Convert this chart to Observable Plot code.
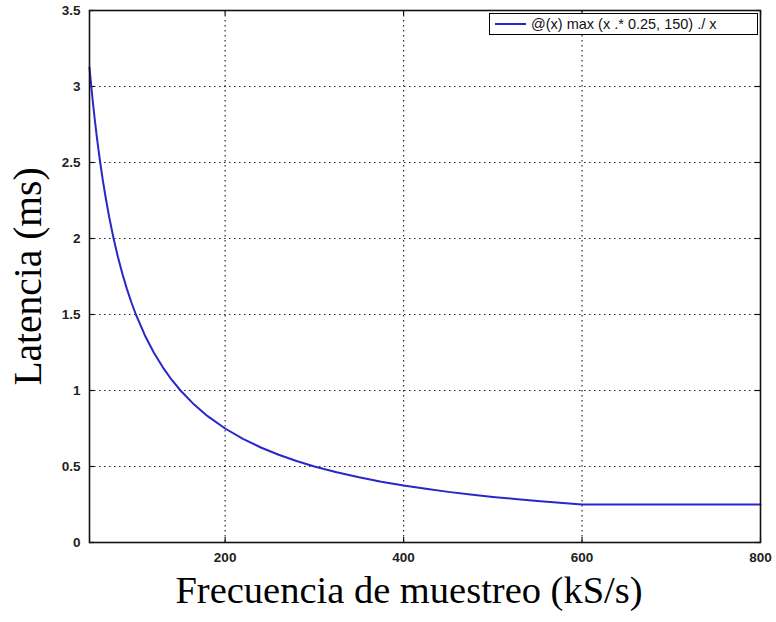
<!DOCTYPE html>
<html>
<head>
<meta charset="utf-8">
<script src="https://cdn.jsdelivr.net/npm/d3@7"></script>
<script src="https://cdn.jsdelivr.net/npm/@observablehq/plot@0.6"></script>
<style>
  html, body { margin: 0; padding: 0; background: #fff; }
  #wrap { position: relative; width: 776px; height: 622px; }
  #legend {
    position: absolute; left: 489px; top: 13px; width: 269px; height: 22px;
    border: 1px solid #000; background: #fff; box-sizing: border-box;
    font-family: "Liberation Sans", Arial, sans-serif; font-size: 14.5px; color: #111;
    display: flex; align-items: center; white-space: nowrap;
  }
  #legend .sw { width: 31px; height: 0; border-top: 2px solid #2828c8; margin: 0 5px 0 5px; }
</style>
</head>
<body>
<div id="wrap">
  <div id="chart"></div>
  <div id="legend"><div class="sw"></div><span id="legtext"></span></div>
</div>
<script>
// Sampling frequency (kS/s)
const freq = [48, 50, 52, 54, 56, 58, 60, 63, 66, 70, 75, 80, 85, 90, 95, 100, 110, 120, 130, 140, 150, 165, 180, 200, 220, 240, 260, 280, 300, 325, 350, 375, 400, 425, 450, 475, 500, 525, 550, 575, 600, 650, 700, 750, 800];
// Latency (ms)
const latency = [3.125, 3.0, 2.885, 2.778, 2.679, 2.586, 2.5, 2.381, 2.273, 2.143, 2.0, 1.875, 1.765, 1.667, 1.579, 1.5, 1.364, 1.25, 1.154, 1.071, 1.0, 0.909, 0.833, 0.75, 0.682, 0.625, 0.577, 0.536, 0.5, 0.462, 0.429, 0.4, 0.375, 0.353, 0.333, 0.316, 0.3, 0.286, 0.273, 0.261, 0.25, 0.25, 0.25, 0.25, 0.25];
const xTicks = [200, 400, 600, 800];
const yTicks = [0, 0.5, 1, 1.5, 2, 2.5, 3, 3.5];
const seriesLabel = "@(x) max (x .* 0.25, 150) ./ x";
const xLabel = "Frecuencia de muestreo (kS/s)";
const yLabel = "Latencia (ms)";

const data = freq.map((f, i) => ({f, l: latency[i]}));
document.getElementById("legtext").textContent = seriesLabel;

const sans = "Liberation Sans, Arial, sans-serif";
const serif = "Liberation Serif, Times New Roman, serif";
const fmt = d => String(d);

const W = 776, H = 622, mL = 89, mR = 16, mT = 10, mB = 80;
const pw = W - mL - mR, ph = H - mT - mB, tk = 5;

const chart = Plot.plot({
  width: W,
  height: H,
  marginLeft: mL,
  marginRight: mR,
  marginTop: mT,
  marginBottom: mB,
  style: {fontFamily: sans, fontSize: "13px", color: "#111", background: "#fff"},
  x: {domain: [48, 800], ticks: xTicks, label: null},
  y: {domain: [0, 3.5], ticks: yTicks, label: null},
  marks: [
    Plot.gridX(xTicks.slice(0, 3), {stroke: "#000", strokeOpacity: 0.85, strokeDasharray: "1.5,3.5", strokeWidth: 1.2}),
    Plot.gridY(yTicks.slice(1, 7), {stroke: "#000", strokeOpacity: 0.85, strokeDasharray: "1.5,3.5", strokeWidth: 1.2}),
    // inward tick marks on all four sides
    Plot.tickY(yTicks, {y: d => d, insetRight: pw - tk, stroke: "#111", strokeWidth: 1.2}),
    Plot.tickY(yTicks, {y: d => d, insetLeft: pw - tk, stroke: "#111", strokeWidth: 1.2}),
    Plot.tickX(xTicks, {x: d => d, insetTop: ph - tk, stroke: "#111", strokeWidth: 1.2}),
    Plot.tickX(xTicks, {x: d => d, insetBottom: ph - tk, stroke: "#111", strokeWidth: 1.2}),
    Plot.axisX(xTicks, {tickSize: 0, tickPadding: 10, fontSize: 13.5, fontWeight: "bold", fill: "#222", tickFormat: fmt}),
    Plot.axisY(yTicks, {tickSize: 0, tickPadding: 9, fontSize: 13.5, fontWeight: "bold", fill: "#222", tickFormat: fmt}),
    Plot.line(data, {x: "f", y: "l", stroke: "#2828c8", strokeWidth: 2, curve: "linear"}),
    Plot.frame({stroke: "#111", strokeWidth: 1.6}),
    Plot.text([xLabel], {frameAnchor: "bottom", dx: -16, dy: 60, fontSize: 38.5, fontFamily: serif, fill: "#000"}),
    Plot.text([yLabel], {frameAnchor: "left", textAnchor: "middle", rotate: -90, dx: -61, fontSize: 39.5, fontFamily: serif, fill: "#000"})
  ]
});
document.getElementById("chart").appendChild(chart);
</script>
</body>
</html>
